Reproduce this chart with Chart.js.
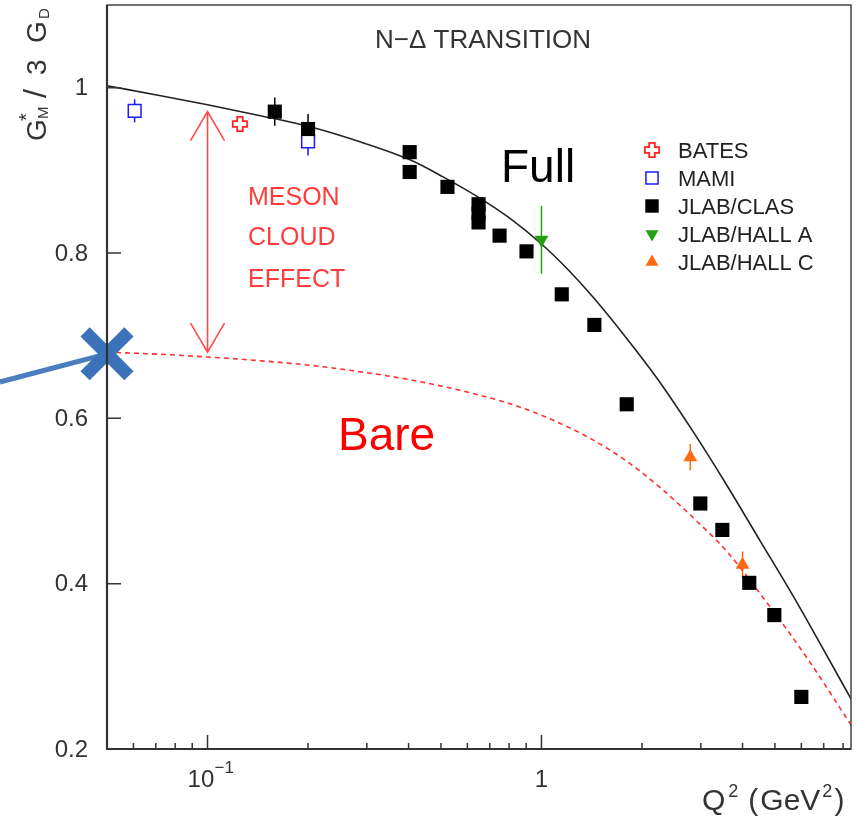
<!DOCTYPE html>
<html>
<head>
<meta charset="utf-8">
<style>
  html, body { margin: 0; padding: 0; background: #fff; }
  #wrap { width: 858px; height: 819px; }
</style>
</head>
<body>
<div id="wrap"><canvas id="chart" width="858" height="819"></canvas></div>
<script src="https://cdn.jsdelivr.net/npm/chart.js@4/dist/chart.umd.min.js"></script>
<script>
// ------------------------------------------------------------
// data (Q^2 in GeV^2, G*_M / 3 G_D)
// ------------------------------------------------------------
const fullQ2 = [0.05, 0.0711, 0.1, 0.1416, 0.2027, 0.2861, 0.404, 0.5072, 0.6409, 0.805, 1.0,
                1.2, 1.426, 1.778, 2.218, 2.842, 3.593, 4.511, 5.662, 6.917, 8.45];
const fullGM = [1.0024, 0.9909, 0.9794, 0.9667, 0.9527, 0.9345, 0.9127, 0.8921, 0.8685, 0.8418, 0.8109,
                0.7800, 0.7467, 0.6994, 0.6485, 0.5842, 0.5188, 0.4521, 0.3855, 0.3236, 0.2606];

const bareQ2 = [0.05, 0.0711, 0.1, 0.1416, 0.2027, 0.2861, 0.404, 0.5702, 0.805, 1.06,
                1.426, 1.803, 2.264, 2.842, 3.593, 4.733, 6.236, 8.45];
const bareGM = [0.680, 0.6776, 0.6742, 0.6699, 0.6642, 0.6564, 0.6467, 0.6339, 0.6176, 0.5994,
                0.5739, 0.5479, 0.5164, 0.4800, 0.4388, 0.3770, 0.3103, 0.2291];

const clasQ2  = [0.159, 0.200, 0.403, 0.403, 0.523, 0.648, 0.648, 0.648, 0.749, 0.902, 1.15, 1.44, 1.80, 2.99, 3.48, 4.19, 4.98, 6.0];
const clasGM  = [0.971, 0.950, 0.922, 0.898, 0.880, 0.859, 0.848, 0.837, 0.821, 0.802, 0.750, 0.713, 0.617, 0.497, 0.465, 0.401, 0.362, 0.263];
const clasErr = [0.017, 0.018, 0, 0, 0, 0, 0, 0, 0, 0, 0, 0, 0, 0, 0, 0, 0, 0];

const mamiQ2  = [0.0605, 0.2];
const mamiGM  = [0.972, 0.935];
const mamiErr = [0.014, 0.017];

const batesQ2  = [0.125];
const batesGM  = [0.956];

const hallAQ2  = [1.0];
const hallAGM  = [0.816];
const hallAErr = [0.041];

const hallCQ2  = [2.79, 4.0];
const hallCGM  = [0.553, 0.423];
const hallCErr = [0.016, 0.016];

// blue pointer annotation (arrow into the bare value at the axis)
const pointerQ2 = [0.0239, 0.05];
const pointerGM = [0.644, 0.678];

// axes
const xMajorTicks = [0.1, 1];
const xMinorTicks = [0.06, 0.07, 0.08, 0.09, 0.2, 0.3, 0.4, 0.5, 0.6, 0.7, 0.8, 0.9, 2, 3, 4, 5, 6, 7, 8];
const yTicks = [0.2, 0.4, 0.6, 0.8, 1.0];
const yTickLabels = ['0.2', '0.4', '0.6', '0.8', '1'];

const legendLabels = ['BATES', 'MAMI', 'JLAB/CLAS', 'JLAB/HALL A', 'JLAB/HALL C'];

const FONT = '"Liberation Sans", Arial, sans-serif';

function pts(xs, ys) {
    return xs.map((x, i) => ({ x: x, y: ys[i] }));
}

// open cross marker used for BATES
function plusMarker(color) {
    const c = document.createElement('canvas');
    c.width = 18; c.height = 18;
    const g = c.getContext('2d');
    const s = 9, a = 2.8, b = 7.2;
    g.beginPath();
    g.moveTo(s - a, s - b); g.lineTo(s + a, s - b); g.lineTo(s + a, s - a);
    g.lineTo(s + b, s - a); g.lineTo(s + b, s + a); g.lineTo(s + a, s + a);
    g.lineTo(s + a, s + b); g.lineTo(s - a, s + b); g.lineTo(s - a, s + a);
    g.lineTo(s - b, s + a); g.lineTo(s - b, s - a); g.lineTo(s - a, s - a);
    g.closePath();
    g.fillStyle = '#fff';
    g.fill();
    g.strokeStyle = color;
    g.lineWidth = 1.8;
    g.stroke();
    return c;
}

// draw a run of [text, fontSize, baselineShift, extraGap] pieces one after another
function drawRun(ctx, pieces, x, y) {
    let cx = x;
    pieces.forEach(p => {
        ctx.font = p[1] + 'px ' + FONT;
        ctx.fillText(p[0], cx, y + p[2]);
        cx += ctx.measureText(p[0]).width + (p[3] || 0);
    });
    return cx - x;
}

document.addEventListener('DOMContentLoaded', () => {

    const batesImg = plusMarker('#ff2020');

    const markerStyles = [
        { pointStyle: batesImg, radius: 9, rotation: 0, fill: '#fff', stroke: '#ff2020', borderWidth: 0 },
        { pointStyle: 'rect', radius: 9, rotation: 0, fill: '#fff', stroke: '#1a1aff', borderWidth: 1.5 },
        { pointStyle: 'rect', radius: 10, rotation: 0, fill: '#000', stroke: '#000', borderWidth: 0 },
        { pointStyle: 'triangle', radius: 8, rotation: 180, fill: '#22a010', stroke: '#22a010', borderWidth: 0 },
        { pointStyle: 'triangle', radius: 8, rotation: 0, fill: '#ff6a10', stroke: '#ff6a10', borderWidth: 0 }
    ];

    function markerSet(data, errors, st) {
        return {
            data: data,
            errors: errors,
            showLine: false,
            pointStyle: st.pointStyle,
            pointRadius: st.radius,
            rotation: st.rotation,
            backgroundColor: st.fill,
            borderColor: st.stroke,
            borderWidth: st.borderWidth
        };
    }

    const datasets = [
        {   // blue X
            data: pts([pointerQ2[1]], [pointerGM[1]]),
            showLine: false,
            pointStyle: 'crossRot',
            pointRadius: 31,
            borderWidth: 13,
            borderColor: '#3b72ba',
            clip: false
        },
        {   // blue pointer line
            data: pts(pointerQ2, pointerGM),
            showLine: true,
            pointRadius: 0,
            borderColor: '#4a7ebf',
            borderWidth: 5,
            clip: false
        },
        markerSet(pts(hallCQ2, hallCGM), hallCErr, markerStyles[4]),
        markerSet(pts(hallAQ2, hallAGM), hallAErr, markerStyles[3]),
        markerSet(pts(clasQ2, clasGM), clasErr, markerStyles[2]),
        markerSet(pts(mamiQ2, mamiGM), mamiErr, markerStyles[1]),
        markerSet(pts(batesQ2, batesGM), null, markerStyles[0]),
        {   // full
            data: pts(fullQ2, fullGM),
            showLine: true,
            pointRadius: 0,
            borderColor: '#222',
            borderWidth: 1.6,
            cubicInterpolationMode: 'monotone'
        },
        {   // bare
            data: pts(bareQ2, bareGM),
            showLine: true,
            pointRadius: 0,
            borderColor: '#ff3030',
            borderWidth: 1.6,
            borderDash: [5, 4],
            cubicInterpolationMode: 'monotone'
        }
    ];

    const annotate = {
        id: 'annotate',
        beforeDatasetsDraw(chart) {
            // error bars
            const ctx = chart.ctx;
            const xs = chart.scales.x, ys = chart.scales.y;
            ctx.save();
            chart.data.datasets.forEach(ds => {
                if (!ds.errors) return;
                ctx.strokeStyle = ds.borderColor;
                ctx.lineWidth = 1.5;
                ds.data.forEach((p, i) => {
                    const e = ds.errors[i];
                    if (!e) return;
                    const px = xs.getPixelForValue(p.x);
                    ctx.beginPath();
                    ctx.moveTo(px, ys.getPixelForValue(p.y - e));
                    ctx.lineTo(px, ys.getPixelForValue(p.y + e));
                    ctx.stroke();
                });
            });
            ctx.restore();
        },
        afterDatasetsDraw(chart) {
            // frame + inward ticks
            const ctx = chart.ctx;
            const a = chart.chartArea;
            const xs = chart.scales.x, ys = chart.scales.y;
            ctx.save();
            ctx.strokeStyle = '#444';
            ctx.lineWidth = 1.5;
            ctx.strokeRect(a.left, a.top, a.right - a.left, a.bottom - a.top);
            ctx.strokeStyle = '#333';
            ctx.lineWidth = 2.2;
            ctx.beginPath();
            ctx.moveTo(a.left, a.top);
            ctx.lineTo(a.left, a.bottom);
            ctx.lineTo(a.right, a.bottom);
            ctx.stroke();

            ctx.lineWidth = 1.5;
            ctx.beginPath();
            yTicks.forEach(v => {
                const py = ys.getPixelForValue(v);
                ctx.moveTo(a.left, py);
                ctx.lineTo(a.left + 14, py);
            });
            xMajorTicks.forEach(v => {
                const px = xs.getPixelForValue(v);
                ctx.moveTo(px, a.bottom);
                ctx.lineTo(px, a.bottom - 14);
            });
            xMinorTicks.forEach(v => {
                const px = xs.getPixelForValue(v);
                ctx.moveTo(px, a.bottom);
                ctx.lineTo(px, a.bottom - 6);
            });
            ctx.stroke();

            // tick labels
            ctx.fillStyle = '#333';
            ctx.font = '24px ' + FONT;
            ctx.textAlign = 'right';
            ctx.textBaseline = 'middle';
            yTicks.forEach((v, i) => {
                ctx.fillText(yTickLabels[i], 88, ys.getPixelForValue(v) + 1);
            });
            ctx.textBaseline = 'alphabetic';
            const p01 = xs.getPixelForValue(0.1);
            ctx.textAlign = 'left';
            ctx.fillText('10', p01 - 20, 787);
            ctx.font = '17px ' + FONT;
            ctx.fillText('\u22121', p01 + 7, 773);
            ctx.font = '24px ' + FONT;
            ctx.textAlign = 'center';
            ctx.fillText('1', xs.getPixelForValue(1), 787);

            // x title: Q2 (GeV2)
            ctx.textAlign = 'left';
            drawRun(ctx, [['Q', 30, 0, 3], ['2', 18, -13, 10], ['(', 30, 0, 2], ['GeV', 30, 0, 2],
                          ['2', 18, -13, 2], [')', 30, 0]], 702, 810);

            // y title: G*_M / 3 G_D
            ctx.save();
            ctx.translate(46, 141);
            ctx.rotate(-Math.PI / 2);
            ctx.font = '28px ' + FONT;
            ctx.fillText('G', 0, 0);
            ctx.font = '20px ' + FONT;
            ctx.fillText('*', 20, -13);
            ctx.font = '15px ' + FONT;
            ctx.fillText('M', 22, 2);
            ctx.font = '32px ' + FONT;
            ctx.fillText('/', 43, 0);
            ctx.font = '28px ' + FONT;
            ctx.fillText('3', 66, 0);
            ctx.fillText('G', 98, 0);
            ctx.font = '15px ' + FONT;
            ctx.fillText('D', 122, 3);
            ctx.restore();
            ctx.restore();
        },
        afterDraw(chart) {
            const ctx = chart.ctx;
            const xs = chart.scales.x, ys = chart.scales.y;
            ctx.save();

            // title
            ctx.fillStyle = '#333';
            ctx.font = '26px ' + FONT;
            ctx.textAlign = 'left';
            ctx.fillText('N\u2212\u0394 TRANSITION', 375, 48);

            // meson cloud double arrow
            const ax = xs.getPixelForValue(0.1);
            const aTop = ys.getPixelForValue(0.971);
            const aBot = ys.getPixelForValue(0.68);
            ctx.strokeStyle = '#ff4a4a';
            ctx.lineWidth = 1.6;
            ctx.beginPath();
            ctx.moveTo(ax, aTop); ctx.lineTo(ax, aBot);
            ctx.moveTo(ax - 17, aTop + 29); ctx.lineTo(ax, aTop); ctx.lineTo(ax + 17, aTop + 29);
            ctx.moveTo(ax - 17, aBot - 29); ctx.lineTo(ax, aBot); ctx.lineTo(ax + 17, aBot - 29);
            ctx.stroke();

            ctx.fillStyle = '#ff3c3c';
            ctx.font = '25px ' + FONT;
            ctx.fillText('MESON', 248, 205);
            ctx.fillText('CLOUD', 248, 245);
            ctx.fillText('EFFECT', 248, 287);

            // big labels
            ctx.font = '46px ' + FONT;
            ctx.fillStyle = '#000';
            ctx.fillText('Full', 501, 182);
            ctx.fillStyle = '#ff0000';
            ctx.fillText('Bare', 338, 450);

            // legend
            legendLabels.forEach((lab, i) => {
                const st = markerStyles[i];
                const base = 158 + 28 * i;
                ctx.fillStyle = st.fill;
                ctx.strokeStyle = st.stroke;
                ctx.lineWidth = st.borderWidth;
                const r = (i >= 3) ? 7.5 : st.radius * 0.95;
                Chart.helpers.drawPoint(ctx, {
                    pointStyle: st.pointStyle,
                    radius: r,
                    rotation: st.rotation,
                    borderWidth: st.borderWidth
                }, 652, base - 8);
                ctx.font = '22px ' + FONT;
                ctx.fillStyle = '#222';
                ctx.fillText(lab, 678, base);
            });
            ctx.restore();
        }
    };

    new Chart(document.getElementById('chart').getContext('2d'), {
        type: 'scatter',
        data: { datasets: datasets },
        options: {
            responsive: false,
            animation: false,
            events: [],
            layout: { autoPadding: false, padding: { left: 107, right: 7, top: 5, bottom: 70 } },
            plugins: {
                legend: { display: false },
                tooltip: { enabled: false }
            },
            scales: {
                x: { type: 'logarithmic', min: 0.05, max: 8.45, display: false },
                y: { type: 'linear', min: 0.2, max: 1.1, display: false }
            }
        },
        plugins: [annotate]
    });
});
</script>
</body>
</html>
